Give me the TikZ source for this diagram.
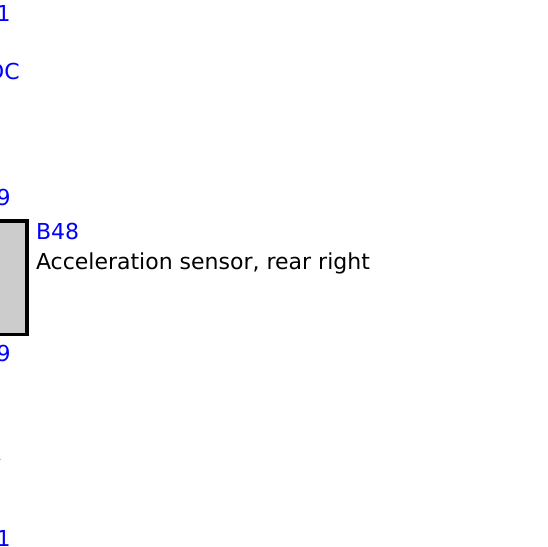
\documentclass[tikz,border=0pt]{standalone}
\usepackage{fontspec}
\setmainfont{DejaVu Sans}
\definecolor{labelblue}{RGB}{0,0,255}
\definecolor{boxgray}{RGB}{204,204,204}
\tikzset{
  lbl/.style={inner sep=0pt,outer sep=0pt,font=\fontsize{22pt}{26pt}\selectfont},
  bluelbl/.style={lbl,text=labelblue},
  sensorbox/.style={draw=black,fill=boxgray,line width=3.6pt,line join=miter}
}
\begin{document}
\begin{tikzpicture}[x=1pt,y=-1pt]
\useasboundingbox (0,0) rectangle (548,546);
\clip (0,0) rectangle (548,546);
\fill[white] (0,0) rectangle (548,546);
\draw[sensorbox] (-20,221.2) rectangle (26.9,334.4);
\node[bluelbl,anchor=base east] (top) at (10.7,21) {1};
\node[bluelbl,anchor=base east] (dc) at (19.7,79) {DC};
\node[bluelbl,anchor=base east] (nineup) at (10.7,205) {9};
\node[bluelbl,anchor=base west] (bname) at (36,239) {B48};
\node[lbl,anchor=base west] (bdesc) at (36,269) {Acceleration sensor, rear right};
\node[bluelbl,anchor=base east] (ninedown) at (10.7,361) {9};
\node[bluelbl,anchor=base east] (bottom) at (10.7,546) {1};
\fill[gray!60] (0,458.5) rectangle (1,460);
\end{tikzpicture}
\end{document}
